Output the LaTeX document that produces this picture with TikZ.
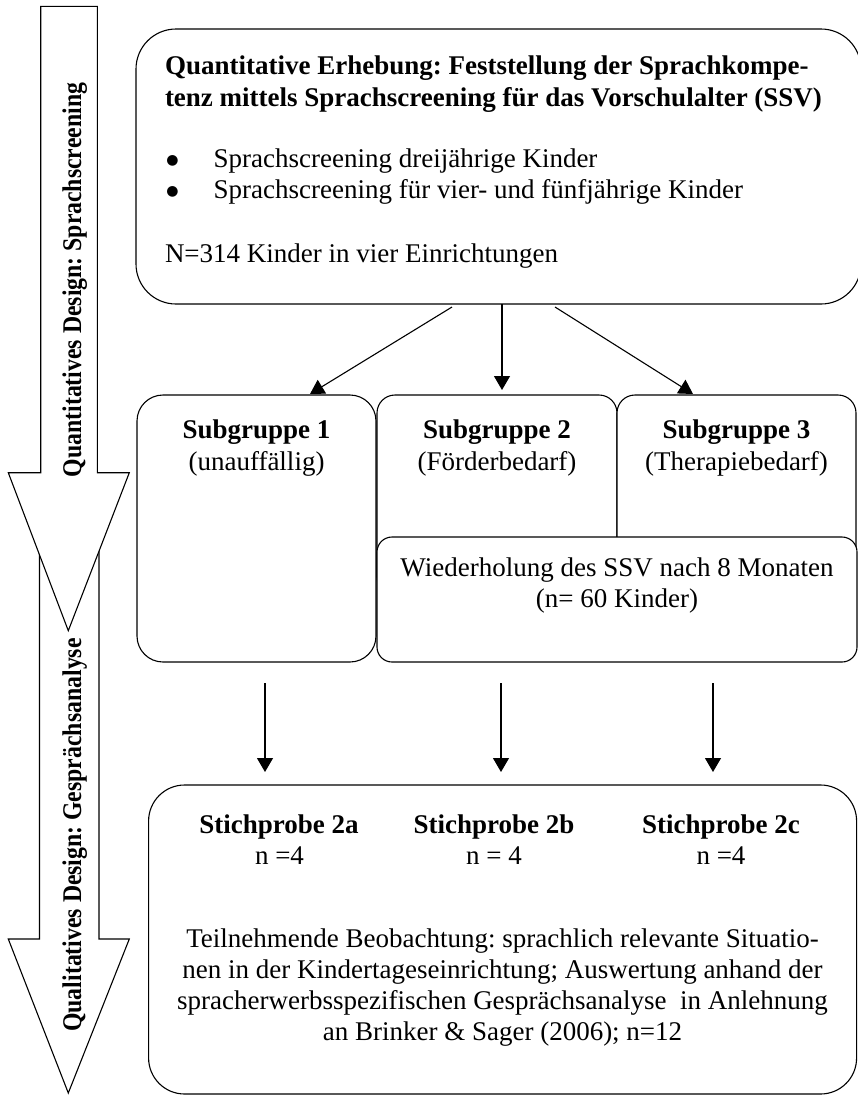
\documentclass[tikz,border=0pt]{standalone}
\usepackage{fontspec}
\setmainfont{Liberation Serif}
\newfontfamily\dejavu{DejaVu Sans}
\usetikzlibrary{arrows.meta}
\frenchspacing
\begin{document}
\begin{tikzpicture}[x=1pt,y=-1pt,
  every node/.style={inner sep=0pt, outer sep=0pt, font=\fontsize{27}{31}\selectfont},
  box/.style={draw, line width=1.1pt, fill=white, rectangle, anchor=north west},
  bigarrow/.style={draw, line width=1.1pt, fill=white},
  arr/.style={line width=1.1pt, -{Triangle[length=14pt,width=16pt]}},
  txt/.style={anchor=base},
  ltxt/.style={anchor=base west},
  bul/.style={anchor=base, font=\dejavu\fontsize{14}{16}\selectfont},
  side/.style={anchor=base, rotate=90, font=\fontsize{27}{31}\selectfont\bfseries}]
\useasboundingbox (0,0) rectangle (858,1096);

% left big arrows
\draw[bigarrow] (39.5,520) -- (99,520) -- (99,939) -- (129.3,939) -- (68.3,1093)
  -- (8.3,939) -- (39.5,939) -- cycle;
\draw[bigarrow] (40.7,6.4) -- (97.3,6.4) -- (97.3,472.7) -- (129.3,472.7) -- (68.3,630.7)
  -- (8.3,472.7) -- (40.7,472.7) -- cycle;
\node[side] (qd) at (81,280) {\scalebox{0.88}[1]{Quantitatives Design: Sprachscreening}};
\node[side] (ql) at (81,835) {\scalebox{0.88}[1]{Qualitatives Design: Gesprächsanalyse}};

% top box
\node[box, rounded corners=40pt, minimum width=725pt, minimum height=275pt] (top) at (136,29) {};
\node[ltxt, font=\fontsize{27}{31}\selectfont\bfseries] (t1) at (165,74) {Quantitative Erhebung: Feststellung der Sprachkompe-};
\node[ltxt, font=\fontsize{27}{31}\selectfont\bfseries] (t2) at (165,106) {tenz mittels Sprachscreening für das Vorschulalter (SSV)};
\node[bul] (b1) at (172.5,164) {●};
\node[ltxt] (l1) at (213.6,167) {Sprachscreening dreijährige Kinder};
\node[bul] (b2) at (172.5,195) {●};
\node[ltxt] (l2) at (213.6,198) {Sprachscreening für vier- und fünfjährige Kinder};
\node[ltxt] (nt) at (165,262) {N=314 Kinder in vier Einrichtungen};

% subgroups
\node[box, rounded corners=26pt, minimum width=239pt, minimum height=267pt] (sub1) at (137,395) {};
\node[box, rounded corners=18pt, minimum width=240pt, minimum height=200pt] (sub2) at (377,395) {};
\node[box, rounded corners=18pt, minimum width=239pt, minimum height=200pt] (sub3) at (617,395) {};
\node[box, rounded corners=15pt, minimum width=480pt, minimum height=125pt] (rep) at (377,537) {};

\node[txt, font=\fontsize{27}{31}\selectfont\bfseries] (s1) at (256.5,438) {Subgruppe 1};
\node[txt] (s1b) at (256.5,470) {(unauffällig)};
\node[txt, font=\fontsize{27}{31}\selectfont\bfseries] (s2) at (497,438) {Subgruppe 2};
\node[txt] (s2b) at (497,470) {(Förderbedarf)};
\node[txt, font=\fontsize{27}{31}\selectfont\bfseries] (s3) at (736.5,438) {Subgruppe 3};
\node[txt] (s3b) at (736.5,470) {(Therapiebedarf)};
\node[txt] (r1) at (617,576) {Wiederholung des SSV nach 8 Monaten};
\node[txt] (r2) at (617,607) {(n= 60 Kinder)};

% arrows top -> subgroups
\draw[arr] ([xshift=-46.5pt,yshift=-3pt]top.south) -- ([xshift=53.5pt,yshift=1pt]sub1.north);
\draw[arr] ([xshift=3.5pt]top.south) -- ([xshift=5pt,yshift=5pt]sub2.north);
\draw[arr] ([xshift=56.5pt,yshift=-3pt]top.south) -- ([xshift=-43.5pt,yshift=1pt]sub3.north);

% bottom box
\node[box, rounded corners=36pt, minimum width=708pt, minimum height=309pt] (bot) at (148.6,785) {};
\node[txt, font=\fontsize{27}{31}\selectfont\bfseries] (p1) at (279,833) {Stichprobe 2a};
\node[txt] (p1n) at (279.5,864) {n =4};
\node[txt, font=\fontsize{27}{31}\selectfont\bfseries] (p2) at (494,833) {Stichprobe 2b};
\node[txt] (p2n) at (494,864) {n = 4};
\node[txt, font=\fontsize{27}{31}\selectfont\bfseries] (p3) at (721,833) {Stichprobe 2c};
\node[txt] (p3n) at (721,864) {n =4};
\node[txt] (q1) at (502.5,947) {Teilnehmende Beobachtung: sprachlich relevante Situatio-};
\node[txt] (q2) at (502.5,978) {nen in der Kindertageseinrichtung; Auswertung anhand der};
\node[txt] (q3) at (502.5,1009) {spracherwerbsspezifischen Gesprächsanalyse~ in Anlehnung};
\node[txt] (q4) at (502.5,1040) {an Brinker \& Sager (2006); n=12};

% arrows subgroups -> bottom
\coordinate (d1s) at (265,683); \coordinate (d1e) at (265,772);
\coordinate (d2s) at (501,683); \coordinate (d2e) at (501,772);
\coordinate (d3s) at (713,683); \coordinate (d3e) at (713,772);
\draw[arr] (d1s) -- (d1e);
\draw[arr] (d2s) -- (d2e);
\draw[arr] (d3s) -- (d3e);
\end{tikzpicture}
\end{document}
